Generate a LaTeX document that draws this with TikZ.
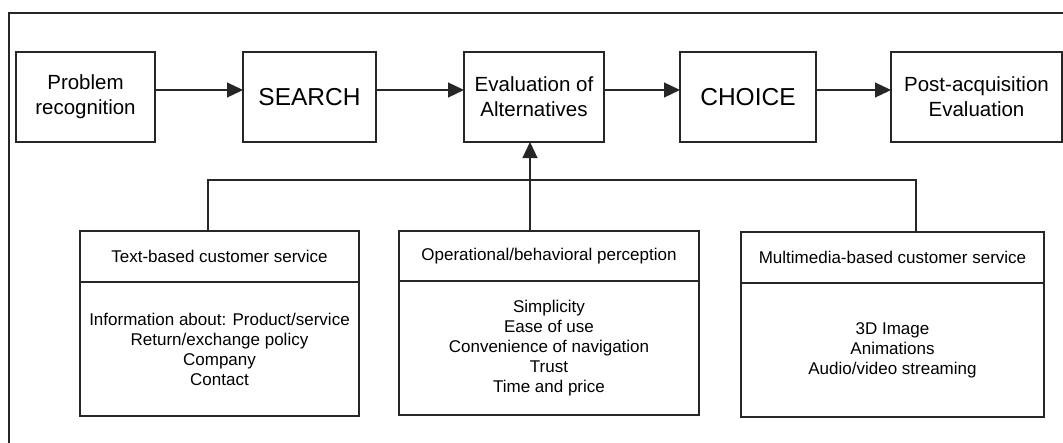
\documentclass[tikz,border=0pt]{standalone}
\usepackage{fontspec}
\setmainfont{Liberation Sans}
\usetikzlibrary{arrows.meta}
\begin{document}
\begin{tikzpicture}[x=1pt,y=-1pt,
  line/.style={line width=1.2pt, draw=black!85},
  stage/.style={line, rectangle, inner sep=0pt, outer sep=0pt, align=center,
    minimum height=90pt, font=\fontsize{20.5}{25}\selectfont},
  bigstage/.style={stage, font=\fontsize{24.5}{29}\selectfont},
  head/.style={line, rectangle, inner sep=0pt, outer sep=0pt, align=center,
    font=\fontsize{17}{20}\selectfont},
  body/.style={head, anchor=north},
  flow/.style={line, -{Triangle[length=16pt,width=15pt]}},
  link/.style={line}
]
\clip (0,0) rectangle (1063,442);
% outer frame
\draw[line, line width=1.5pt] (9,13) rectangle (1080,460);

% decision process stages
\node[stage, minimum width=139pt] (prob) at (85.5,97) {Problem\\recognition};
\node[bigstage, minimum width=133pt] (search) at (309.5,97) {SEARCH};
\node[stage, minimum width=140pt] (eval) at (534,97) {Evaluation of\\Alternatives};
\node[bigstage, minimum width=136pt] (choice) at (748,97) {CHOICE};
\node[stage, minimum width=171pt] (post) at (976.5,97) {Post-acquisition\\Evaluation};

\draw[flow] ([yshift=7pt]prob.east) -- ([yshift=7pt]search.west);
\draw[flow] ([yshift=7pt]search.east) -- ([yshift=7pt]eval.west);
\draw[flow] ([yshift=7pt]eval.east) -- ([yshift=7pt]choice.west);
\draw[flow] ([yshift=7pt]choice.east) -- ([yshift=7pt]post.west);

% influencing factors
\node[head, minimum width=279pt, minimum height=51pt] (th1) at (219.5,256.5) {Text-based customer service};
\node[body, minimum width=279pt, minimum height=134pt] (bd1) at (th1.south)
  {Information about: Product/service\\Return/exchange policy\\Company\\Contact};

\node[head, minimum width=300pt, minimum height=50pt] (th2) at (549,256) {Operational/behavioral perception};
\node[body, minimum width=300pt, minimum height=134pt] (bd2) at (th2.south)
  {Simplicity\\Ease of use\\Convenience of navigation\\Trust\\Time and price};

\node[head, minimum width=303pt, minimum height=51pt] (th3) at (892.5,257.5) {Multimedia-based customer service};
\node[body, minimum width=303pt, minimum height=134pt] (bd3) at (th3.south)
  {3D Image\\Animations\\Audio/video streaming};

% feedback into the evaluation stage
\coordinate (jl) at (208,180);
\coordinate (jm) at (530,180);
\coordinate (jr) at (916,180);
\draw[link] (jl |- th1.north) -- (jl) -- (jr) -- (jr |- th3.north);
\draw[flow] (jm |- th2.north) -- (jm |- eval.south);
\end{tikzpicture}
\end{document}
